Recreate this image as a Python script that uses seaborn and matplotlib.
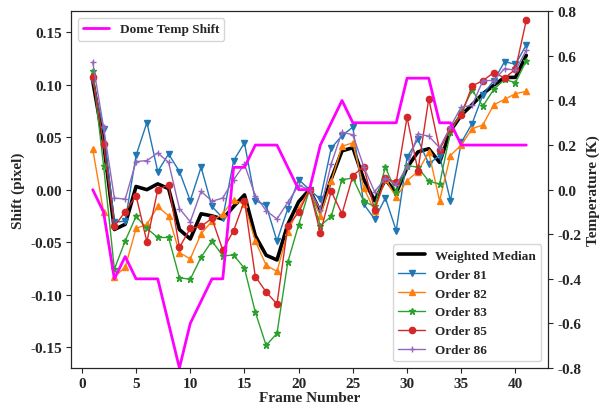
import numpy as np
import pandas as pd
import matplotlib
matplotlib.use("Agg")
import matplotlib.pyplot as plt
import seaborn as sns

frames = list(range(1, 42))

weighted_median = [0.104, 0.045, -0.038, -0.033, 0.003, 0.000, 0.0055, 0.001, -0.038, -0.047,
                   -0.023, -0.025, -0.028, -0.016, -0.005, -0.044, -0.0625, -0.067, -0.033, -0.0115,
                   0.000, -0.021, 0.010, 0.037, 0.040, 0.010, -0.0105, 0.0096, -0.003, 0.021,
                   0.036, 0.039, 0.026, 0.056, 0.071, 0.081, 0.0915, 0.0995, 0.107, 0.107, 0.128]

order_81 = [0.104, 0.058, -0.031, -0.030, 0.0326, 0.064, 0.0173, 0.034, 0.0173, -0.0105,
            0.0214, -0.016, -0.027, 0.0277, 0.0446, -0.0105, -0.015, -0.049, -0.018, 0.0096,
            0.000, -0.009, 0.0395, 0.0516, 0.0596, -0.0137, -0.028, -0.008, -0.039, 0.031,
            0.048, 0.0245, 0.0325, -0.0105, 0.045, 0.063, 0.0905, 0.104, 0.122, 0.1195, 0.138]

order_82 = [0.0389, -0.021, -0.083, -0.074, -0.037, -0.033, -0.016, -0.025, -0.060, -0.066,
            -0.042, -0.030, -0.023, -0.0096, -0.014, -0.049, -0.072, -0.078, -0.040, -0.018,
            0.000, -0.025, 0.008, 0.0414, 0.0446, 0.0016, -0.020, 0.0102, -0.0073, 0.0086,
            0.0173, 0.0357, -0.0105, 0.0325, 0.0427, 0.058, 0.0618, 0.081, 0.086, 0.0915, 0.0937]

order_83 = [0.113, 0.023, -0.0758, -0.0488, -0.0255, -0.037, -0.0456, -0.0456, -0.084, -0.0854,
            -0.0644, -0.049, -0.063, -0.0624, -0.075, -0.1167, -0.1485, -0.137, -0.069, -0.0335,
            0.000, -0.0344, -0.0255, 0.0096, 0.011, -0.011, -0.016, 0.0214, -0.0026, 0.023,
            0.0214, 0.008, 0.0054, 0.0548, 0.074, 0.0947, 0.0797, 0.0956, 0.105, 0.102, 0.123]

order_85 = [0.1074, 0.0437, -0.035, -0.021, -0.0057, -0.0497, 0.000, 0.0048, -0.0551, -0.037,
            -0.035, -0.0274, -0.0577, -0.039, -0.0105, -0.0828, -0.0975, -0.109, -0.0344, -0.0217,
            0.000, -0.041, -0.0016, -0.023, 0.0134, 0.022, -0.019, 0.0108, 0.007, 0.069,
            0.018, 0.0867, 0.038, 0.058, 0.0708, 0.0988, 0.104, 0.1116, 0.1065, 0.1147, 0.1616]

order_86 = [0.1217, 0.0596, -0.008, -0.009, 0.0268, 0.0277, 0.035, 0.026, -0.018, -0.0306,
            -0.0016, -0.011, -0.008, 0.0096, 0.024, -0.0057, -0.020, -0.028, -0.012, 0.004,
            0.000, -0.019, 0.0245, 0.0548, 0.0523, 0.022, -0.002, 0.0108, 0.0048, 0.0214,
            0.0532, 0.051, 0.040, 0.060, 0.0788, 0.0803, 0.104, 0.104, 0.1154, 0.1138, 0.133]

dome_temp_shift = [0.0, -0.1, -0.4, -0.3, -0.4, -0.4, -0.4, -0.6, -0.8, -0.6,
                   -0.5, -0.4, -0.4, 0.1, 0.1, 0.2, 0.2, 0.2, 0.1, 0.0,
                   0.0, 0.2, 0.3, 0.4, 0.3, 0.3, 0.3, 0.3, 0.3, 0.5,
                   0.5, 0.5, 0.3, 0.3, 0.2, 0.2, 0.2, 0.2, 0.2, 0.2, 0.2]

series_labels = ["Order 81", "Order 82", "Order 83", "Order 85", "Order 86"]
series_values = [order_81, order_82, order_83, order_85, order_86]
series_markers = ["v", "^", "*", "o", "+"]
series_colors = ["#1f77b4", "#ff7f0e", "#2ca02c", "#d62728", "#9467bd"]

sns.set_style("ticks")
plt.rcParams["font.family"] = ["Liberation Serif", "DejaVu Serif"]
plt.rcParams["font.weight"] = "bold"
plt.rcParams["axes.labelweight"] = "bold"
plt.rcParams["xtick.direction"] = "out"
plt.rcParams["ytick.direction"] = "out"

fig = plt.figure(figsize=(6.08, 4.06), dpi=100)
ax = fig.add_axes([0.1168, 0.0911, 0.9013 - 0.1168, 0.9697 - 0.0911])

df = pd.DataFrame({"frame": frames, "median": weighted_median})
sns.lineplot(data=df, x="frame", y="median", ax=ax, color="black", linewidth=2.6,
             label="Weighted Median")
for lab, vals, mk, col in zip(series_labels, series_values, series_markers, series_colors):
    d = pd.DataFrame({"frame": frames, "shift": vals})
    sns.lineplot(data=d, x="frame", y="shift", ax=ax, color=col, linewidth=1.0,
                 marker=mk, markersize=4.5, markeredgecolor=col, markeredgewidth=1.0,
                 label=lab)

ax.set_xlim(-1, 43)
ax.set_ylim(-0.17, 0.17)
ax.set_xticks([0, 5, 10, 15, 20, 25, 30, 35, 40])
ax.set_yticks([-0.15, -0.10, -0.05, 0.0, 0.05, 0.10, 0.15])
ax.yaxis.set_major_formatter(matplotlib.ticker.FormatStrFormatter("%.2f"))
ax.set_xlabel("Frame Number", fontsize=11, labelpad=1)
ax.set_ylabel("Shift (pixel)", fontsize=11)
ax.tick_params(labelsize=11, pad=3)
for s in ax.spines.values():
    s.set_visible(True)
    s.set_color("black")
ax.legend(loc="lower right", prop={"weight": "bold", "size": 9.5})

ax2 = ax.twinx()
dt = pd.DataFrame({"frame": frames, "temp": dome_temp_shift})
sns.lineplot(data=dt, x="frame", y="temp", ax=ax2, color="#ff00ff", linewidth=2.0,
             label="Dome Temp Shift")
ax2.set_ylim(-0.8, 0.8)
ax2.set_yticks([-0.8, -0.6, -0.4, -0.2, 0.0, 0.2, 0.4, 0.6, 0.8])
ax2.yaxis.set_major_formatter(matplotlib.ticker.FormatStrFormatter("%.1f"))
ax2.set_ylabel("Temperature (K)", fontsize=11)
ax2.tick_params(labelsize=11, pad=3)
ax2.legend(loc="upper left", prop={"weight": "bold", "size": 9.5})

fig.savefig("out.png", dpi=100)
